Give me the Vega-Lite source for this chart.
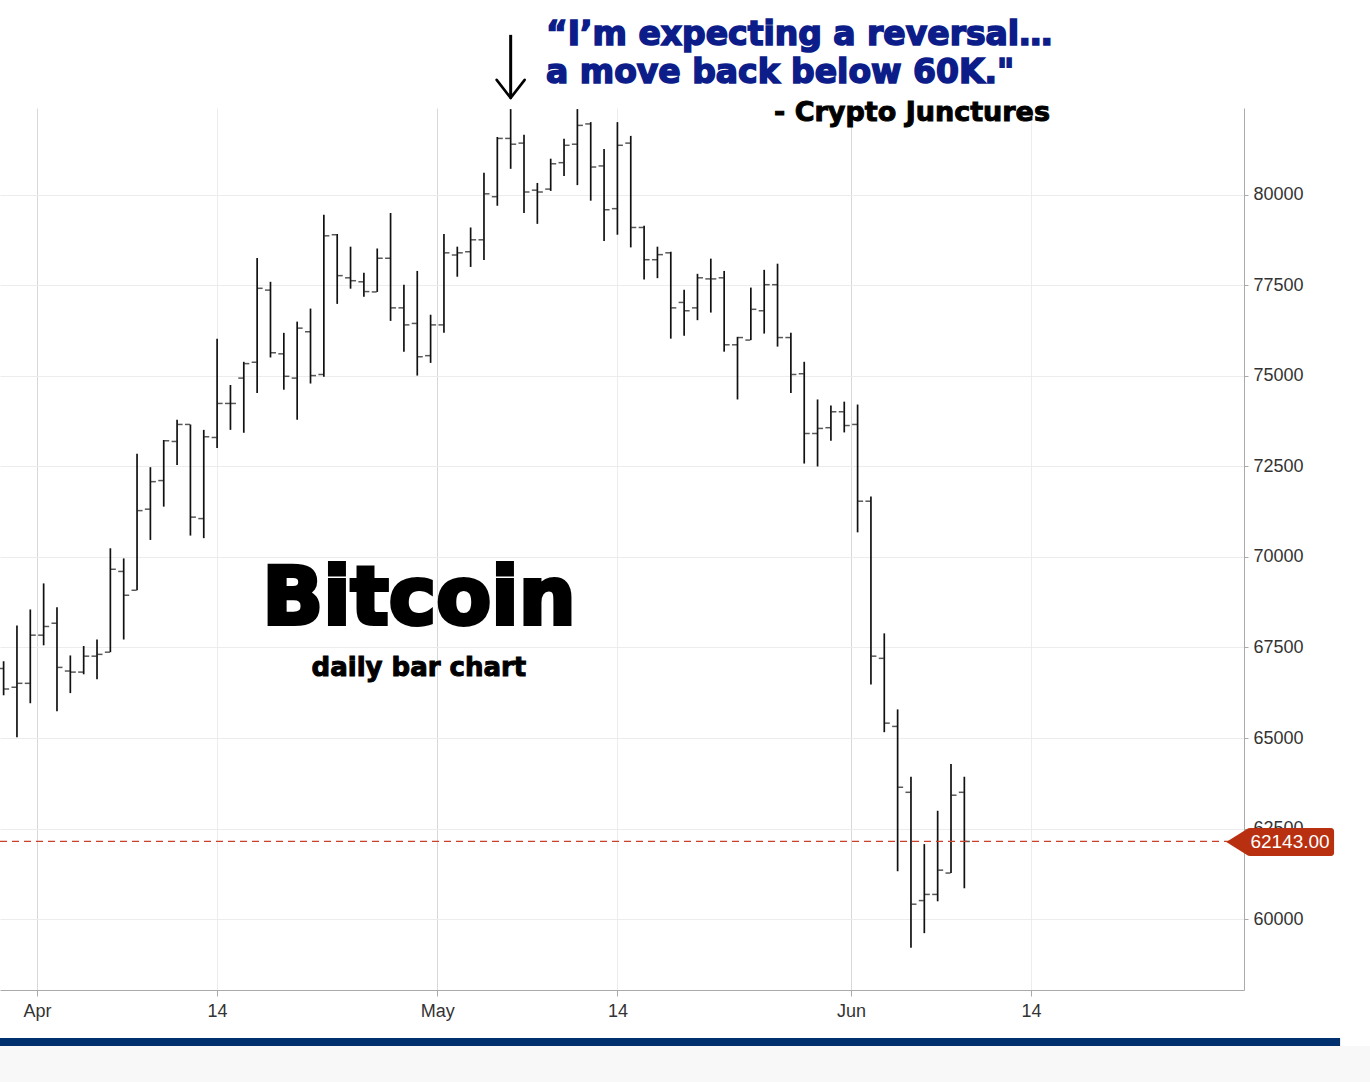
{
  "$schema": "https://vega.github.io/schema/vega-lite/v6.json",
  "width": 1244,
  "height": 882,
  "autosize": {"type": "none"},
  "padding": {"left": 0, "top": 108, "right": 126, "bottom": 92},
  "background": "white",
  "data": {
    "values": [
      {"date": "2024-03-29T12:00:00", "open": 66920, "high": 67120, "low": 66180, "close": 66350},
      {"date": "2024-03-30T12:00:00", "open": 66400, "high": 68110, "low": 65020, "close": 66510},
      {"date": "2024-03-31T12:00:00", "open": 66510, "high": 68550, "low": 65960, "close": 67840},
      {"date": "2024-04-01T12:00:00", "open": 67840, "high": 69270, "low": 67560, "close": 68080},
      {"date": "2024-04-02T12:00:00", "open": 68170, "high": 68610, "low": 65740, "close": 66950},
      {"date": "2024-04-03T12:00:00", "open": 66850, "high": 67280, "low": 66240, "close": 66820},
      {"date": "2024-04-04T12:00:00", "open": 66820, "high": 67540, "low": 66760, "close": 67260},
      {"date": "2024-04-05T12:00:00", "open": 67260, "high": 67720, "low": 66620, "close": 67310},
      {"date": "2024-04-06T12:00:00", "open": 67370, "high": 70240, "low": 67370, "close": 69660},
      {"date": "2024-04-07T12:00:00", "open": 69600, "high": 69960, "low": 67720, "close": 68940},
      {"date": "2024-04-08T12:00:00", "open": 69080, "high": 72850, "low": 69080, "close": 71280},
      {"date": "2024-04-09T12:00:00", "open": 71320, "high": 72480, "low": 70470, "close": 72080},
      {"date": "2024-04-10T12:00:00", "open": 72110, "high": 73230, "low": 71390, "close": 73210},
      {"date": "2024-04-11T12:00:00", "open": 73190, "high": 73790, "low": 72540, "close": 73660},
      {"date": "2024-04-12T12:00:00", "open": 73660, "high": 73660, "low": 70590, "close": 71100},
      {"date": "2024-04-13T12:00:00", "open": 71060, "high": 73510, "low": 70520, "close": 73320},
      {"date": "2024-04-14T12:00:00", "open": 73300, "high": 76030, "low": 73010, "close": 74240},
      {"date": "2024-04-15T12:00:00", "open": 74240, "high": 74750, "low": 73510, "close": 74240},
      {"date": "2024-04-16T12:00:00", "open": 74940, "high": 75390, "low": 73430, "close": 75340},
      {"date": "2024-04-17T12:00:00", "open": 75380, "high": 78260, "low": 74530, "close": 77420},
      {"date": "2024-04-18T12:00:00", "open": 77370, "high": 77600, "low": 75510, "close": 75640},
      {"date": "2024-04-19T12:00:00", "open": 75610, "high": 76190, "low": 74620, "close": 74990},
      {"date": "2024-04-20T12:00:00", "open": 74940, "high": 76500, "low": 73790, "close": 76320},
      {"date": "2024-04-21T12:00:00", "open": 76220, "high": 76860, "low": 74790, "close": 75010},
      {"date": "2024-04-22T12:00:00", "open": 75040, "high": 79450, "low": 74980, "close": 78870},
      {"date": "2024-04-23T12:00:00", "open": 78900, "high": 78920, "low": 76990, "close": 77770},
      {"date": "2024-04-24T12:00:00", "open": 77710, "high": 78570, "low": 77410, "close": 77630},
      {"date": "2024-04-25T12:00:00", "open": 77600, "high": 77850, "low": 77190, "close": 77330},
      {"date": "2024-04-26T12:00:00", "open": 77320, "high": 78520, "low": 77320, "close": 78250},
      {"date": "2024-04-27T12:00:00", "open": 78250, "high": 79500, "low": 76520, "close": 76880},
      {"date": "2024-04-28T12:00:00", "open": 76880, "high": 77520, "low": 75670, "close": 76410},
      {"date": "2024-04-29T12:00:00", "open": 76450, "high": 77900, "low": 75010, "close": 75530},
      {"date": "2024-04-30T12:00:00", "open": 75560, "high": 76690, "low": 75360, "close": 76410},
      {"date": "2024-05-01T12:00:00", "open": 76410, "high": 78920, "low": 76190, "close": 78400},
      {"date": "2024-05-02T12:00:00", "open": 78340, "high": 78570, "low": 77740, "close": 78400},
      {"date": "2024-05-03T12:00:00", "open": 78430, "high": 79100, "low": 78010, "close": 78760},
      {"date": "2024-05-04T12:00:00", "open": 78760, "high": 80610, "low": 78200, "close": 80030},
      {"date": "2024-05-05T12:00:00", "open": 79950, "high": 81600, "low": 79700, "close": 81560},
      {"date": "2024-05-06T12:00:00", "open": 81560, "high": 82370, "low": 80720, "close": 81400},
      {"date": "2024-05-07T12:00:00", "open": 81430, "high": 81660, "low": 79500, "close": 80080},
      {"date": "2024-05-08T12:00:00", "open": 80130, "high": 80330, "low": 79200, "close": 80080},
      {"date": "2024-05-09T12:00:00", "open": 80160, "high": 81000, "low": 80110, "close": 80860},
      {"date": "2024-05-10T12:00:00", "open": 80890, "high": 81550, "low": 80520, "close": 81370},
      {"date": "2024-05-11T12:00:00", "open": 81400, "high": 82370, "low": 80270, "close": 81920},
      {"date": "2024-05-12T12:00:00", "open": 81960, "high": 82010, "low": 79840, "close": 80770},
      {"date": "2024-05-13T12:00:00", "open": 80800, "high": 81270, "low": 78730, "close": 79590},
      {"date": "2024-05-14T12:00:00", "open": 79620, "high": 82010, "low": 78900, "close": 81370},
      {"date": "2024-05-15T12:00:00", "open": 81430, "high": 81630, "low": 78550, "close": 79100},
      {"date": "2024-05-16T12:00:00", "open": 79100, "high": 79150, "low": 77660, "close": 78210},
      {"date": "2024-05-17T12:00:00", "open": 78210, "high": 78570, "low": 77700, "close": 78350},
      {"date": "2024-05-18T12:00:00", "open": 78400, "high": 78430, "low": 76030, "close": 76880},
      {"date": "2024-05-19T12:00:00", "open": 77030, "high": 77380, "low": 76110, "close": 76800},
      {"date": "2024-05-20T12:00:00", "open": 76880, "high": 77820, "low": 76540, "close": 77710},
      {"date": "2024-05-21T12:00:00", "open": 77680, "high": 78240, "low": 76750, "close": 77680},
      {"date": "2024-05-22T12:00:00", "open": 77710, "high": 77900, "low": 75670, "close": 75860},
      {"date": "2024-05-23T12:00:00", "open": 75860, "high": 76080, "low": 74350, "close": 76060},
      {"date": "2024-05-24T12:00:00", "open": 75990, "high": 77440, "low": 75990, "close": 76840},
      {"date": "2024-05-25T12:00:00", "open": 76800, "high": 77930, "low": 76170, "close": 77520},
      {"date": "2024-05-26T12:00:00", "open": 77520, "high": 78100, "low": 75810, "close": 76060},
      {"date": "2024-05-27T12:00:00", "open": 76060, "high": 76190, "low": 74530, "close": 75040},
      {"date": "2024-05-28T12:00:00", "open": 75060, "high": 75390, "low": 72580, "close": 73410},
      {"date": "2024-05-29T12:00:00", "open": 73410, "high": 74350, "low": 72500, "close": 73550},
      {"date": "2024-05-30T12:00:00", "open": 73570, "high": 74180, "low": 73210, "close": 74010},
      {"date": "2024-05-31T12:00:00", "open": 74010, "high": 74290, "low": 73440, "close": 73630},
      {"date": "2024-06-01T12:00:00", "open": 73660, "high": 74210, "low": 70680, "close": 71540},
      {"date": "2024-06-02T12:00:00", "open": 71540, "high": 71670, "low": 66480, "close": 67260},
      {"date": "2024-06-03T12:00:00", "open": 67200, "high": 67890, "low": 65160, "close": 65410},
      {"date": "2024-06-04T12:00:00", "open": 65320, "high": 65790, "low": 61320, "close": 63640},
      {"date": "2024-06-05T12:00:00", "open": 63500, "high": 63930, "low": 59210, "close": 60410},
      {"date": "2024-06-06T12:00:00", "open": 60510, "high": 62070, "low": 59610, "close": 60680},
      {"date": "2024-06-07T12:00:00", "open": 60680, "high": 62990, "low": 60490, "close": 61350},
      {"date": "2024-06-08T12:00:00", "open": 61270, "high": 64280, "low": 61270, "close": 63420},
      {"date": "2024-06-09T12:00:00", "open": 63500, "high": 63930, "low": 60850, "close": 62143}
    ]
  },
  "layer": [
    {
      "mark": {"type": "rule", "color": "#111111", "strokeWidth": 1.7},
      "encoding": {
        "x": {
          "field": "date",
          "type": "temporal",
          "scale": {
            "domain": [
              {"year": 2024, "month": 3, "date": 29, "hours": 5, "minutes": 30},
              {"year": 2024, "month": 6, "date": 30, "hours": 11}
            ]
          },
          "axis": {
            "title": null,
            "values": [
              {"year": 2024, "month": 4, "date": 1},
              {"year": 2024, "month": 4, "date": 14, "hours": 12},
              {"year": 2024, "month": 5, "date": 1},
              {"year": 2024, "month": 5, "date": 14, "hours": 12},
              {"year": 2024, "month": 6, "date": 1},
              {"year": 2024, "month": 6, "date": 14, "hours": 12}
            ],
            "labelExpr": "date(datum.value) == 1 ? timeFormat(datum.value, '%b') : timeFormat(datum.value, '%d')",
            "gridColor": {"condition": {"test": "date(datum.value) == 1", "value": "#d8d8d8"}, "value": "#ececec"},
            "tickSize": 6,
            "labelPadding": 6
          }
        },
        "y": {
          "field": "low",
          "type": "quantitative",
          "scale": {"domain": [58040, 82400], "nice": false, "zero": false},
          "axis": {
            "title": null,
            "orient": "right",
            "format": "d",
            "values": [60000, 62500, 65000, 67500, 70000, 72500, 75000, 77500, 80000],
            "tickSize": 4,
            "labelPadding": 5
          }
        },
        "y2": {"field": "high"}
      }
    },
    {
      "mark": {"type": "tick", "orient": "horizontal", "color": "#111111", "size": 5, "thickness": 1.5, "xOffset": -3},
      "encoding": {
        "x": {"field": "date", "type": "temporal"},
        "y": {"field": "open", "type": "quantitative"}
      }
    },
    {
      "mark": {"type": "tick", "orient": "horizontal", "color": "#111111", "size": 5, "thickness": 1.5, "xOffset": 3},
      "encoding": {
        "x": {"field": "date", "type": "temporal"},
        "y": {"field": "close", "type": "quantitative"}
      }
    },
    {
      "data": {"values": [{}]},
      "mark": {"type": "rule", "color": "#cc3f2a", "strokeWidth": 1.3, "strokeDash": [7, 5]},
      "encoding": {
        "x": {"datum": {"year": 2024, "month": 3, "date": 29, "hours": 5, "minutes": 30}, "type": "temporal"},
        "x2": {"datum": {"year": 2024, "month": 6, "date": 29, "hours": 9}},
        "y": {"datum": 62143, "type": "quantitative"}
      }
    },
    {
      "data": {"values": [{}]},
      "mark": {"type": "rect", "color": "#b8300f", "cornerRadius": 3},
      "encoding": {
        "x": {"datum": {"year": 2024, "month": 6, "date": 30, "hours": 16, "minutes": 30}, "type": "temporal"},
        "x2": {"datum": {"year": 2024, "month": 7, "date": 7, "hours": 5}},
        "y": {"datum": 62514, "type": "quantitative"},
        "y2": {"datum": 61741}
      }
    },
    {
      "data": {"values": [{}]},
      "mark": {"type": "point", "shape": "M -1 0 L 0.6 -1 L 0.6 1 Z", "filled": true, "color": "#b8300f", "opacity": 1, "size": 784},
      "encoding": {
        "x": {"datum": {"year": 2024, "month": 6, "date": 30, "hours": 4, "minutes": 18}, "type": "temporal"},
        "y": {"datum": 62128, "type": "quantitative"}
      }
    },
    {
      "data": {"values": [{"label": "62143.00"}]},
      "mark": {"type": "text", "color": "white", "font": "Liberation Sans", "fontSize": 19, "align": "center", "baseline": "middle"},
      "encoding": {
        "x": {"datum": {"year": 2024, "month": 7, "date": 3, "hours": 21, "minutes": 48}, "type": "temporal"},
        "y": {"datum": 62128, "type": "quantitative"},
        "text": {"field": "label"}
      }
    },
    {
      "data": {"values": [{}]},
      "mark": {"type": "rect", "color": "#00306e"},
      "encoding": {
        "x": {"datum": {"year": 2024, "month": 3, "date": 29, "hours": 5, "minutes": 30}, "type": "temporal"},
        "x2": {"datum": {"year": 2024, "month": 7, "date": 7, "hours": 15, "minutes": 50}},
        "y": {"datum": 56713, "type": "quantitative"},
        "y2": {"datum": 56492}
      }
    },
    {
      "data": {"values": [{}]},
      "mark": {"type": "rect", "color": "#f8f8f8"},
      "encoding": {
        "x": {"datum": {"year": 2024, "month": 3, "date": 29, "hours": 5, "minutes": 30}, "type": "temporal"},
        "x2": {"datum": {"year": 2024, "month": 7, "date": 12}},
        "y": {"datum": 56492, "type": "quantitative"},
        "y2": {"datum": 55000}
      }
    },
    {
      "data": {"values": [{}]},
      "mark": {"type": "rule", "color": "#000000", "strokeWidth": 3},
      "encoding": {
        "x": {"datum": {"year": 2024, "month": 5, "date": 6, "hours": 12}, "type": "temporal"},
        "y": {"datum": 84420, "type": "quantitative"},
        "y2": {"datum": 82700}
      }
    },
    {
      "data": {"values": [{}]},
      "mark": {"type": "rule", "color": "#000000", "strokeWidth": 2.6, "strokeCap": "round"},
      "encoding": {
        "x": {"datum": {"year": 2024, "month": 5, "date": 5, "hours": 10, "minutes": 48}, "type": "temporal"},
        "x2": {"datum": {"year": 2024, "month": 5, "date": 6, "hours": 12}},
        "y": {"datum": 83177, "type": "quantitative"},
        "y2": {"datum": 82680}
      }
    },
    {
      "data": {"values": [{}]},
      "mark": {"type": "rule", "color": "#000000", "strokeWidth": 2.6, "strokeCap": "round"},
      "encoding": {
        "x": {"datum": {"year": 2024, "month": 5, "date": 7, "hours": 13, "minutes": 12}, "type": "temporal"},
        "x2": {"datum": {"year": 2024, "month": 5, "date": 6, "hours": 12}},
        "y": {"datum": 83177, "type": "quantitative"},
        "y2": {"datum": 82680}
      }
    },
    {
      "data": {"values": [{"label": "“I’m expecting a reversal…"}]},
      "mark": {"type": "text", "color": "#0c1d8a", "stroke": "#0c1d8a", "strokeWidth": 1.6, "font": "DejaVu Sans", "fontWeight": "bold", "fontSize": 33, "align": "left", "baseline": "alphabetic"},
      "encoding": {
        "x": {"datum": {"year": 2024, "month": 5, "date": 9, "hours": 3, "minutes": 36}, "type": "temporal"},
        "y": {"datum": 84144, "type": "quantitative"},
        "text": {"field": "label"}
      }
    },
    {
      "data": {"values": [{"label": "a move back below 60K.\""}]},
      "mark": {"type": "text", "color": "#0c1d8a", "stroke": "#0c1d8a", "strokeWidth": 1.6, "font": "DejaVu Sans", "fontWeight": "bold", "fontSize": 33, "align": "left", "baseline": "alphabetic"},
      "encoding": {
        "x": {"datum": {"year": 2024, "month": 5, "date": 9, "hours": 3, "minutes": 36}, "type": "temporal"},
        "y": {"datum": 83094, "type": "quantitative"},
        "text": {"field": "label"}
      }
    },
    {
      "data": {"values": [{"label": "- Crypto Junctures"}]},
      "mark": {"type": "text", "color": "#000000", "stroke": "#000000", "strokeWidth": 1, "font": "DejaVu Sans", "fontWeight": "bold", "fontSize": 27, "align": "right", "baseline": "alphabetic"},
      "encoding": {
        "x": {"datum": {"year": 2024, "month": 6, "date": 15, "hours": 22}, "type": "temporal"},
        "y": {"datum": 82045, "type": "quantitative"},
        "text": {"field": "label"}
      }
    },
    {
      "data": {"values": [{"label": "Bitcoin"}]},
      "mark": {"type": "text", "color": "#000000", "stroke": "#000000", "strokeWidth": 4, "font": "DejaVu Sans", "fontWeight": "bold", "fontSize": 80, "align": "center", "baseline": "alphabetic"},
      "encoding": {
        "x": {"datum": {"year": 2024, "month": 4, "date": 29, "hours": 15}, "type": "temporal"},
        "y": {"datum": 68150, "type": "quantitative"},
        "text": {"field": "label"}
      }
    },
    {
      "data": {"values": [{"label": "daily bar chart"}]},
      "mark": {"type": "text", "color": "#000000", "stroke": "#000000", "strokeWidth": 1, "font": "DejaVu Sans", "fontWeight": "bold", "fontSize": 26, "align": "center", "baseline": "alphabetic"},
      "encoding": {
        "x": {"datum": {"year": 2024, "month": 4, "date": 29, "hours": 15}, "type": "temporal"},
        "y": {"datum": 66713, "type": "quantitative"},
        "text": {"field": "label"}
      }
    }
  ],
  "config": {
    "view": {"stroke": null},
    "axis": {
      "labelFont": "Liberation Sans",
      "labelFontSize": 18,
      "labelColor": "#333333",
      "domainColor": "#aaaaaa",
      "tickColor": "#aaaaaa",
      "gridColor": "#ececec",
      "grid": true
    }
  }
}
